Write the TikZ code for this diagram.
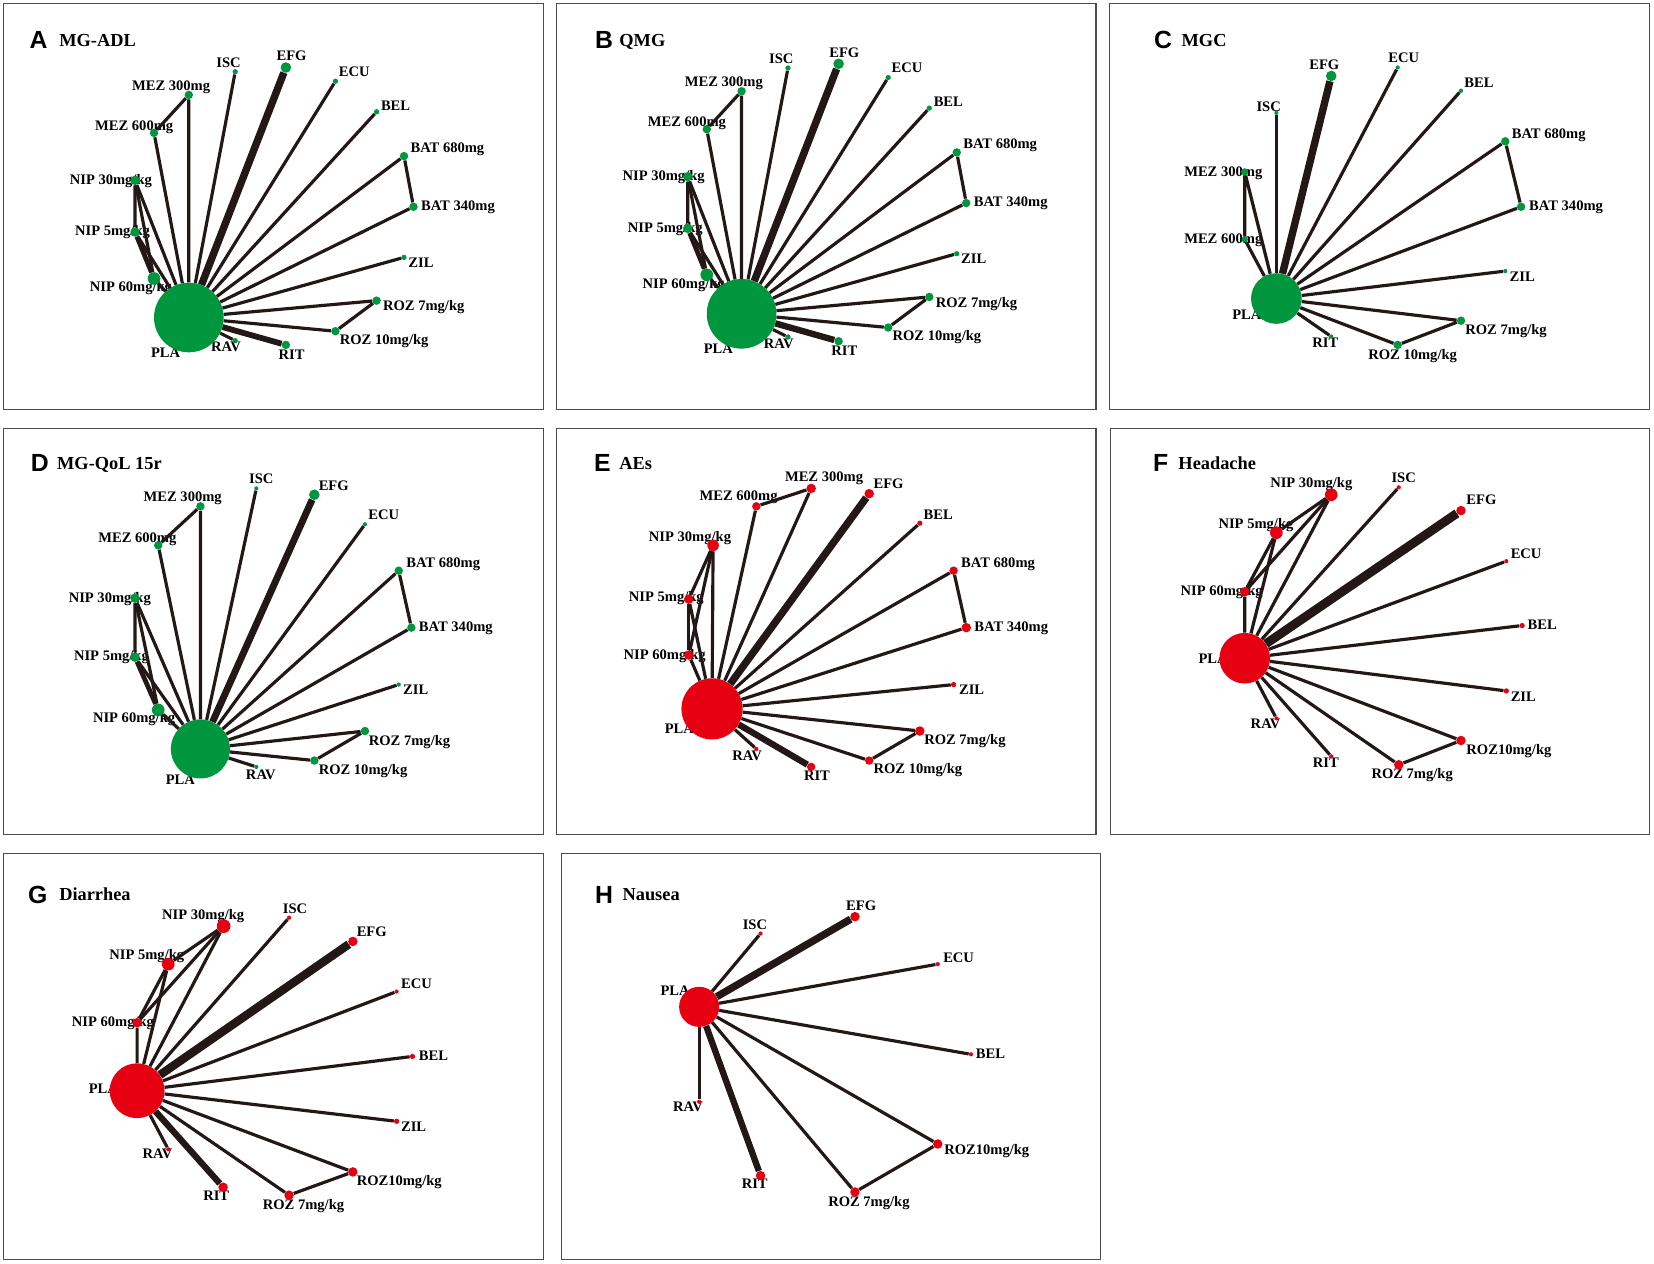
\documentclass[tikz,border=0pt]{standalone}
\usepackage{fontspec}
\setmainfont{Liberation Serif}
\newfontfamily\panelfont{Liberation Sans}
\definecolor{netgreen}{RGB}{0,150,62}
\definecolor{netred}{RGB}{230,0,18}
\definecolor{netline}{RGB}{35,24,21}
\tikzset{gv/.style={circle,fill=netgreen,inner sep=0pt,minimum size=#1pt}}
\tikzset{rv/.style={circle,fill=netred,inner sep=0pt,minimum size=#1pt}}
\tikzset{gv/.default=5}
\tikzset{rv/.default=5}
\tikzset{netedge/.style={line width=#1pt, draw=netline}}
\tikzset{netedge/.default=3}
\tikzset{lab/.style={anchor=west, inner sep=0pt, text height=9.1pt, text depth=0pt, font=\bfseries\fontsize{13.8}{14}\selectfont}}
\tikzset{ttl/.style={anchor=west, inner sep=0pt, text height=11.5pt, text depth=0pt, font=\bfseries\fontsize{17.4}{18}\selectfont}}
\tikzset{paneltag/.style={anchor=west, inner sep=0pt, text height=16.8pt, text depth=0pt, font=\panelfont\bfseries\fontsize{23.5}{24}\selectfont}}
\tikzset{panelbox/.style={draw=black!70, line width=1pt}}

\begin{document}
\begin{tikzpicture}[x=1pt,y=-1pt]
\useasboundingbox (0,0) rectangle (1568,1198);
\fill[white] (0,0) rectangle (1568,1198);

%panel frames
\draw[panelbox] (3,3) rectangle (515,388);
\draw[panelbox] (528,3) rectangle (1039,388);
\draw[panelbox] (1052,3) rectangle (1564,388);
\draw[panelbox] (3,406) rectangle (515,791);
\draw[panelbox] (528,406) rectangle (1039,791);
\draw[panelbox] (1053,406) rectangle (1564,791);
\draw[panelbox] (3,809) rectangle (515,1194);
\draw[panelbox] (532,809) rectangle (1043,1194);

%A: MG-ADL
\node[paneltag] (aTag) at (28,38) {A};
\node[ttl] (aTtl) at (56,38) {MG-ADL};
\node[lab] (aISCl) at (205,59) {ISC};
\node[lab] (aEFGl) at (262,53) {EFG};
\node[lab] (aECUl) at (321,68) {ECU};
\node[lab] (aBELl) at (361,100) {BEL};
\node[lab] (aBAT680l) at (389,140) {BAT 680mg};
\node[lab] (aBAT340l) at (399,195) {BAT 340mg};
\node[lab] (aZILl) at (387,249) {ZIL};
\node[lab] (aROZ7l) at (363,290) {ROZ 7mg/kg};
\node[lab] (aROZ10l) at (322,322) {ROZ 10mg/kg};
\node[lab] (aRITl) at (264,336) {RIT};
\node[lab] (aRAVl) at (200,329) {RAV};
\node[lab] (aPLAl) at (143,334) {PLA};
\node[lab] (aMEZ300l) at (125,81) {MEZ 300mg};
\node[lab] (aMEZ600l) at (90,119) {MEZ 600mg};
\node[lab] (aNIP30l) at (66,170) {NIP 30mg/kg};
\node[lab] (aNIP5l) at (71,219) {NIP 5mg/kg};
\node[lab] (aNIP60l) at (85,272) {NIP 60mg/kg};

\node (aPLA) at (179,301)[gv=66]{};
\node (aISC) at (223,68)[gv]{};
\node (aEFG) at (271,64)[gv=10]{};
\node (aECU) at (318,77)[gv]{};
\node (aBEL) at (357,106)[gv]{};
\node (aBAT680) at (383,148)[gv=8]{};
\node (aBAT340) at (392,196)[gv=8]{};
\node (aZIL) at (383,244)[gv]{};
\node (aROZ7) at (357,285)[gv=8]{};
\node (aROZ10) at (318,314)[gv=8]{};
\node (aRIT) at (271,327)[gv=8]{};
\node (aRAV) at (223,323)[gv]{};
\node (aMEZ300) at (179,90)[gv=8]{};
\node (aMEZ600) at (146,126)[gv=8]{};
\node (aNIP30) at (128,171)[gv=9]{};
\node (aNIP5) at (128,220)[gv=9]{};
\node (aNIP60) at (146,264)[gv=12]{};

\draw[netedge=7] (aPLA)--(aEFG);
\draw[netedge=5.5] (aPLA)--(aRIT);
\draw[netedge=4.5] (aNIP5)--(aNIP60);
\draw[netedge] (aPLA)--(aISC);
\draw[netedge] (aPLA)--(aECU);
\draw[netedge] (aPLA)--(aBEL);
\draw[netedge] (aPLA)--(aBAT680)--(aBAT340)--(aPLA);
\draw[netedge] (aPLA)--(aZIL);
\draw[netedge] (aPLA)--(aROZ7)--(aROZ10)--(aPLA);
\draw[netedge] (aPLA)--(aRAV);
\draw[netedge] (aPLA)--(aMEZ300)--(aMEZ600)--(aPLA);
\draw[netedge] (aPLA)--(aNIP30)--(aNIP5)--(aPLA);
\draw[netedge] (aNIP30)--(aNIP60)--(aPLA);

%B: QMG
\node[paneltag] (bTag) at (564,38) {B};
\node[ttl] (bTtl) at (587,38) {QMG};
\node[lab] (bISCl) at (729,55.5) {ISC};
\node[lab] (bEFGl) at (786,49.5) {EFG};
\node[lab] (bECUl) at (845,64.5) {ECU};
\node[lab] (bBELl) at (885,96.5) {BEL};
\node[lab] (bBAT680l) at (913,136.5) {BAT 680mg};
\node[lab] (bBAT340l) at (923,191.5) {BAT 340mg};
\node[lab] (bZILl) at (911,245.5) {ZIL};
\node[lab] (bROZ7l) at (887,286.5) {ROZ 7mg/kg};
\node[lab] (bROZ10l) at (846,318.5) {ROZ 10mg/kg};
\node[lab] (bRITl) at (788,332.5) {RIT};
\node[lab] (bRAVl) at (724,325.5) {RAV};
\node[lab] (bPLAl) at (667,330.5) {PLA};
\node[lab] (bMEZ300l) at (649,77.5) {MEZ 300mg};
\node[lab] (bMEZ600l) at (614,115.5) {MEZ 600mg};
\node[lab] (bNIP30l) at (590,166.5) {NIP 30mg/kg};
\node[lab] (bNIP5l) at (595,215.5) {NIP 5mg/kg};
\node[lab] (bNIP60l) at (609,268.5) {NIP 60mg/kg};

\node (bPLA) at (703,297.5)[gv=66]{};
\node (bISC) at (747,64.5)[gv]{};
\node (bEFG) at (795,60.5)[gv=10]{};
\node (bECU) at (842,73.5)[gv]{};
\node (bBEL) at (881,102.5)[gv]{};
\node (bBAT680) at (907,144.5)[gv=8]{};
\node (bBAT340) at (916,192.5)[gv=8]{};
\node (bZIL) at (907,240.5)[gv]{};
\node (bROZ7) at (881,281.5)[gv=8]{};
\node (bROZ10) at (842,310.5)[gv=8]{};
\node (bRIT) at (795,323.5)[gv=8]{};
\node (bRAV) at (747,319.5)[gv]{};
\node (bMEZ300) at (703,86.5)[gv=8]{};
\node (bMEZ600) at (670,122.5)[gv=8]{};
\node (bNIP30) at (652,167.5)[gv=9]{};
\node (bNIP5) at (652,216.5)[gv=9]{};
\node (bNIP60) at (670,260.5)[gv=12]{};

\draw[netedge=7] (bPLA)--(bEFG);
\draw[netedge=6] (bPLA)--(bRIT);
\draw[netedge=4.5] (bNIP5)--(bNIP60);
\draw[netedge] (bPLA)--(bISC);
\draw[netedge] (bPLA)--(bECU);
\draw[netedge] (bPLA)--(bBEL);
\draw[netedge] (bPLA)--(bBAT680)--(bBAT340)--(bPLA);
\draw[netedge] (bPLA)--(bZIL);
\draw[netedge] (bPLA)--(bROZ7)--(bROZ10)--(bPLA);
\draw[netedge] (bPLA)--(bRAV);
\draw[netedge] (bPLA)--(bMEZ300)--(bMEZ600)--(bPLA);
\draw[netedge] (bPLA)--(bNIP30)--(bNIP5)--(bPLA);
\draw[netedge] (bNIP30)--(bNIP60)--(bPLA);

%C: MGC
\node[paneltag] (cTag) at (1094,38) {C};
\node[ttl] (cTtl) at (1120,38) {MGC};
\node[lab] (cEFGl) at (1241,61.5) {EFG};
\node[lab] (cECUl) at (1316,55) {ECU};
\node[lab] (cBELl) at (1388,78) {BEL};
\node[lab] (cISCl) at (1191,101) {ISC};
\node[lab] (cBAT680l) at (1433,127) {BAT 680mg};
\node[lab] (cBAT340l) at (1449.5,195) {BAT 340mg};
\node[lab] (cMEZ300l) at (1122.5,163) {MEZ 300mg};
\node[lab] (cMEZ600l) at (1122.5,226.5) {MEZ 600mg};
\node[lab] (cZILl) at (1431,262) {ZIL};
\node[lab] (cPLAl) at (1168,298) {PLA};
\node[lab] (cRITl) at (1244,325) {RIT};
\node[lab] (cROZ7l) at (1389,313) {ROZ 7mg/kg};
\node[lab] (cROZ10l) at (1297,336) {ROZ 10mg/kg};

\node (cPLA) at (1210,283)[gv=48]{};
\node (cEFG) at (1262,72)[gv=10]{};
\node (cISC) at (1210,107)[gv=4]{};
\node (cECU) at (1325,64)[gv=4]{};
\node (cBEL) at (1385,86)[gv=4]{};
\node (cBAT680) at (1427,134)[gv=8]{};
\node (cBAT340) at (1442,196)[gv=8]{};
\node (cZIL) at (1427,257)[gv=4]{};
\node (cROZ7) at (1385,304)[gv=8]{};
\node (cROZ10) at (1325,327)[gv=8]{};
\node (cRIT) at (1262,319)[gv=4]{};
\node (cMEZ300) at (1180,163)[gv=7]{};
\node (cMEZ600) at (1180,227)[gv=6]{};

\draw[netedge=7] (cPLA)--(cEFG);
\draw[netedge] (cPLA)--(cISC);
\draw[netedge] (cPLA)--(cECU);
\draw[netedge] (cPLA)--(cBEL);
\draw[netedge] (cPLA)--(cBAT680)--(cBAT340)--(cPLA);
\draw[netedge] (cPLA)--(cZIL);
\draw[netedge] (cPLA)--(cROZ7)--(cROZ10)--(cPLA);
\draw[netedge] (cPLA)--(cRIT);
\draw[netedge] (cPLA)--(cMEZ300)--(cMEZ600)--(cPLA);

%D: MG-QoL 15r
\node[paneltag] (dTag) at (29,439) {D};
\node[ttl] (dTtl) at (54,439) {MG-QoL 15r};
\node[lab] (dISCl) at (236,454) {ISC};
\node[lab] (dEFGl) at (302,460) {EFG};
\node[lab] (dMEZ300l) at (136,471) {MEZ 300mg};
\node[lab] (dECUl) at (349,488) {ECU};
\node[lab] (dMEZ600l) at (93,510) {MEZ 600mg};
\node[lab] (dBAT680l) at (385,533) {BAT 680mg};
\node[lab] (dNIP30l) at (65,567) {NIP 30mg/kg};
\node[lab] (dBAT340l) at (397,594) {BAT 340mg};
\node[lab] (dNIP5l) at (70,621.5) {NIP 5mg/kg};
\node[lab] (dZILl) at (382,654) {ZIL};
\node[lab] (dNIP60l) at (88,680) {NIP 60mg/kg};
\node[lab] (dROZ7l) at (349.5,702) {ROZ 7mg/kg};
\node[lab] (dROZ10l) at (302,730) {ROZ 10mg/kg};
\node[lab] (dRAVl) at (233,734) {RAV};
\node[lab] (dPLAl) at (157,739) {PLA};

\node (dPLA) at (190,710)[gv=56]{};
\node (dEFG) at (298,469)[gv=10]{};
\node (dISC) at (243,463)[gv=4]{};
\node (dECU) at (346,497)[gv=4]{};
\node (dBAT680) at (378,541)[gv=8]{};
\node (dBAT340) at (390,595)[gv=8]{};
\node (dZIL) at (378,649)[gv=4]{};
\node (dROZ7) at (346,693)[gv=8]{};
\node (dROZ10) at (298,721)[gv=8]{};
\node (dRAV) at (243,727)[gv=4]{};
\node (dMEZ300) at (190,480)[gv=8]{};
\node (dMEZ600) at (150,517)[gv=8]{};
\node (dNIP30) at (128,567)[gv=9]{};
\node (dNIP5) at (128,623)[gv=9]{};
\node (dNIP60) at (150,673)[gv=12]{};

\draw[netedge=6.5] (dPLA)--(dEFG);
\draw[netedge=4.5] (dNIP5)--(dNIP60);
\draw[netedge] (dPLA)--(dISC);
\draw[netedge] (dPLA)--(dECU);
\draw[netedge] (dPLA)--(dBAT680)--(dBAT340)--(dPLA);
\draw[netedge] (dPLA)--(dZIL);
\draw[netedge] (dPLA)--(dROZ7)--(dROZ10)--(dPLA);
\draw[netedge] (dPLA)--(dRAV);
\draw[netedge] (dPLA)--(dMEZ300)--(dMEZ600)--(dPLA);
\draw[netedge] (dPLA)--(dNIP30)--(dNIP5)--(dPLA);
\draw[netedge] (dNIP30)--(dNIP60)--(dPLA);

%E: AEs
\node[paneltag] (eTag) at (563,439) {E};
\node[ttl] (eTtl) at (587,439) {AEs};
\node[lab] (eMEZ300l) at (744,452) {MEZ 300mg};
\node[lab] (eEFGl) at (828,459) {EFG};
\node[lab] (eMEZ600l) at (663,470) {MEZ 600mg};
\node[lab] (eBELl) at (875.5,488) {BEL};
\node[lab] (eNIP30l) at (615,508.5) {NIP 30mg/kg};
\node[lab] (eBAT680l) at (911,533) {BAT 680mg};
\node[lab] (eNIP5l) at (596,566) {NIP 5mg/kg};
\node[lab] (eBAT340l) at (923.5,594.5) {BAT 340mg};
\node[lab] (eNIP60l) at (591,621) {NIP 60mg/kg};
\node[lab] (eZILl) at (909,654) {ZIL};
\node[lab] (ePLAl) at (630,690.5) {PLA};
\node[lab] (eROZ7l) at (876,701) {ROZ 7mg/kg};
\node[lab] (eRAVl) at (694,716) {RAV};
\node[lab] (eROZ10l) at (828,729) {ROZ 10mg/kg};
\node[lab] (eRITl) at (762,735) {RIT};

\node (ePLA) at (675,672)[rv=58]{};
\node (eMEZ300) at (769,463)[rv=9]{};
\node (eMEZ600) at (717,480)[rv=8]{};
\node (eEFG) at (824,468)[rv=9]{};
\node (eBEL) at (872,496)[rv]{};
\node (eBAT680) at (904,541)[rv=8]{};
\node (eBAT340) at (916,595)[rv=9]{};
\node (eZIL) at (904,649)[rv]{};
\node (eROZ7) at (872,693)[rv=9]{};
\node (eROZ10) at (824,721)[rv=8]{};
\node (eRIT) at (769,727)[rv=8]{};
\node (eRAV) at (717,710)[rv=4]{};
\node (eNIP30) at (676,517)[rv=11]{};
\node (eNIP5) at (653,568)[rv=9]{};
\node (eNIP60) at (653,621)[rv=9]{};

\draw[netedge=7] (ePLA)--(eEFG);
\draw[netedge=6] (ePLA)--(eRIT);
\draw[netedge] (ePLA)--(eMEZ300)--(eMEZ600)--(ePLA);
\draw[netedge] (ePLA)--(eBEL);
\draw[netedge] (ePLA)--(eBAT680)--(eBAT340)--(ePLA);
\draw[netedge] (ePLA)--(eZIL);
\draw[netedge] (ePLA)--(eROZ7)--(eROZ10)--(ePLA);
\draw[netedge] (ePLA)--(eRAV);
\draw[netedge] (ePLA)--(eNIP30)--(eNIP5)--(ePLA);
\draw[netedge] (eNIP30)--(eNIP60)--(ePLA);
\draw[netedge] (eNIP5)--(eNIP60);

%F: Headache
\node[paneltag] (fTag) at (1093,438.5) {F};
\node[ttl] (fTtl) at (1117,439) {Headache};
\node[lab] (fNIP30l) at (1204,458) {NIP 30mg/kg};
\node[lab] (fISCl) at (1319,453) {ISC};
\node[lab] (fEFGl) at (1390,474) {EFG};
\node[lab] (fNIP5l) at (1155,496.5) {NIP 5mg/kg};
\node[lab] (fECUl) at (1432,525) {ECU};
\node[lab] (fNIP60l) at (1119,560) {NIP 60mg/kg};
\node[lab] (fBELl) at (1448,592) {BEL};
\node[lab] (fPLAl) at (1136,624) {PLA};
\node[lab] (fZILl) at (1432,660) {ZIL};
\node[lab] (fRAVl) at (1185.5,686) {RAV};
\node[lab] (fROZ10l) at (1390,710.5) {ROZ10mg/kg};
\node[lab] (fRITl) at (1244.5,723) {RIT};
\node[lab] (fROZ7l) at (1300,733.5) {ROZ 7mg/kg};

\node (fPLA) at (1180,624)[rv=48]{};
\node (fNIP30) at (1262,469)[rv=12]{};
\node (fNIP5) at (1210,505)[rv=12]{};
\node (fNIP60) at (1180,561)[rv=9]{};
\node (fISC) at (1326,462)[rv=4]{};
\node (fEFG) at (1385,484)[rv=9]{};
\node (fECU) at (1428,532)[rv=4]{};
\node (fBEL) at (1443,593)[rv]{};
\node (fZIL) at (1428,655)[rv]{};
\node (fROZ10) at (1385,702)[rv=9]{};
\node (fROZ7) at (1326,725)[rv=9]{};
\node (fRIT) at (1262,717)[rv=4]{};
\node (fRAV) at (1210,681)[rv=4]{};

\draw[netedge=8.5] (fPLA)--(fEFG);
\draw[netedge] (fPLA)--(fNIP30)--(fNIP5)--(fPLA);
\draw[netedge] (fNIP30)--(fNIP60)--(fPLA);
\draw[netedge] (fNIP5)--(fNIP60);
\draw[netedge] (fPLA)--(fISC);
\draw[netedge] (fPLA)--(fECU);
\draw[netedge] (fPLA)--(fBEL);
\draw[netedge] (fPLA)--(fZIL);
\draw[netedge] (fPLA)--(fROZ10)--(fROZ7)--(fPLA);
\draw[netedge] (fPLA)--(fRIT);
\draw[netedge] (fPLA)--(fRAV);

%G: Diarrhea
\node[paneltag] (gTag) at (26.5,848) {G};
\node[ttl] (gTtl) at (56,848) {Diarrhea};
\node[lab] (gNIP30l) at (153.5,867) {NIP 30mg/kg};
\node[lab] (gISCl) at (268,861) {ISC};
\node[lab] (gEFGl) at (338,883) {EFG};
\node[lab] (gNIP5l) at (103.5,905.5) {NIP 5mg/kg};
\node[lab] (gECUl) at (380,933) {ECU};
\node[lab] (gNIP60l) at (68,969) {NIP 60mg/kg};
\node[lab] (gBELl) at (397,1001) {BEL};
\node[lab] (gPLAl) at (84,1032.5) {PLA};
\node[lab] (gZILl) at (380,1068) {ZIL};
\node[lab] (gRAVl) at (135,1094) {RAV};
\node[lab] (gROZ10l) at (338,1119.5) {ROZ10mg/kg};
\node[lab] (gRITl) at (192.5,1133.5) {RIT};
\node[lab] (gROZ7l) at (249,1142.5) {ROZ 7mg/kg};

\node (gPLA) at (130,1034)[rv=52]{};
\node (gNIP30) at (212,878)[rv=13]{};
\node (gNIP5) at (159.5,914)[rv=12]{};
\node (gNIP60) at (130,969.5)[rv=9]{};
\node (gISC) at (274,870)[rv=4]{};
\node (gEFG) at (334.5,892.5)[rv=9]{};
\node (gECU) at (376,940)[rv=4]{};
\node (gBEL) at (391,1001.5)[rv]{};
\node (gZIL) at (376,1063)[rv]{};
\node (gROZ10) at (334.5,1111)[rv=9]{};
\node (gROZ7) at (274,1133)[rv=9]{};
\node (gRIT) at (211.5,1125.5)[rv=9]{};
\node (gRAV) at (159.5,1089.5)[rv=4]{};

\draw[netedge=8] (gPLA)--(gEFG);
\draw[netedge=6] (gPLA)--(gRIT);
\draw[netedge] (gPLA)--(gNIP30)--(gNIP5)--(gPLA);
\draw[netedge] (gNIP30)--(gNIP60)--(gPLA);
\draw[netedge] (gNIP5)--(gNIP60);
\draw[netedge] (gPLA)--(gISC);
\draw[netedge] (gPLA)--(gECU);
\draw[netedge] (gPLA)--(gBEL);
\draw[netedge] (gPLA)--(gZIL);
\draw[netedge] (gPLA)--(gROZ10)--(gROZ7)--(gPLA);
\draw[netedge] (gPLA)--(gRAV);

%H: Nausea
\node[paneltag] (hTag) at (564,848) {H};
\node[ttl] (hTtl) at (590,848) {Nausea};
\node[lab] (hEFGl) at (802,858.5) {EFG};
\node[lab] (hISCl) at (704,876.5) {ISC};
\node[lab] (hECUl) at (894,907.5) {ECU};
\node[lab] (hPLAl) at (626,939.5) {PLA};
\node[lab] (hBELl) at (925,999) {BEL};
\node[lab] (hRAVl) at (638,1049) {RAV};
\node[lab] (hROZ10l) at (895,1090) {ROZ10mg/kg};
\node[lab] (hRITl) at (703,1122.5) {RIT};
\node[lab] (hROZ7l) at (785,1139) {ROZ 7mg/kg};

\node (hPLA) at (662.8,954.5)[rv=38]{};
\node (hISC) at (721,885)[rv=4]{};
\node (hEFG) at (810.5,869)[rv=9]{};
\node (hECU) at (889,914)[rv=4]{};
\node (hBEL) at (920.5,999.5)[rv=4]{};
\node (hROZ10) at (889,1084.5)[rv=9]{};
\node (hROZ7) at (810.5,1130)[rv=9]{};
\node (hRIT) at (721,1114.5)[rv=9]{};
\node (hRAV) at (662.8,1044.5)[rv=4]{};

\draw[netedge=7] (hPLA)--(hEFG);
\draw[netedge=6] (hPLA)--(hRIT);
\draw[netedge] (hPLA)--(hISC);
\draw[netedge] (hPLA)--(hECU);
\draw[netedge] (hPLA)--(hBEL);
\draw[netedge] (hPLA)--(hROZ10)--(hROZ7)--(hPLA);
\draw[netedge] (hPLA)--(hRAV);

\end{tikzpicture}
\end{document}
